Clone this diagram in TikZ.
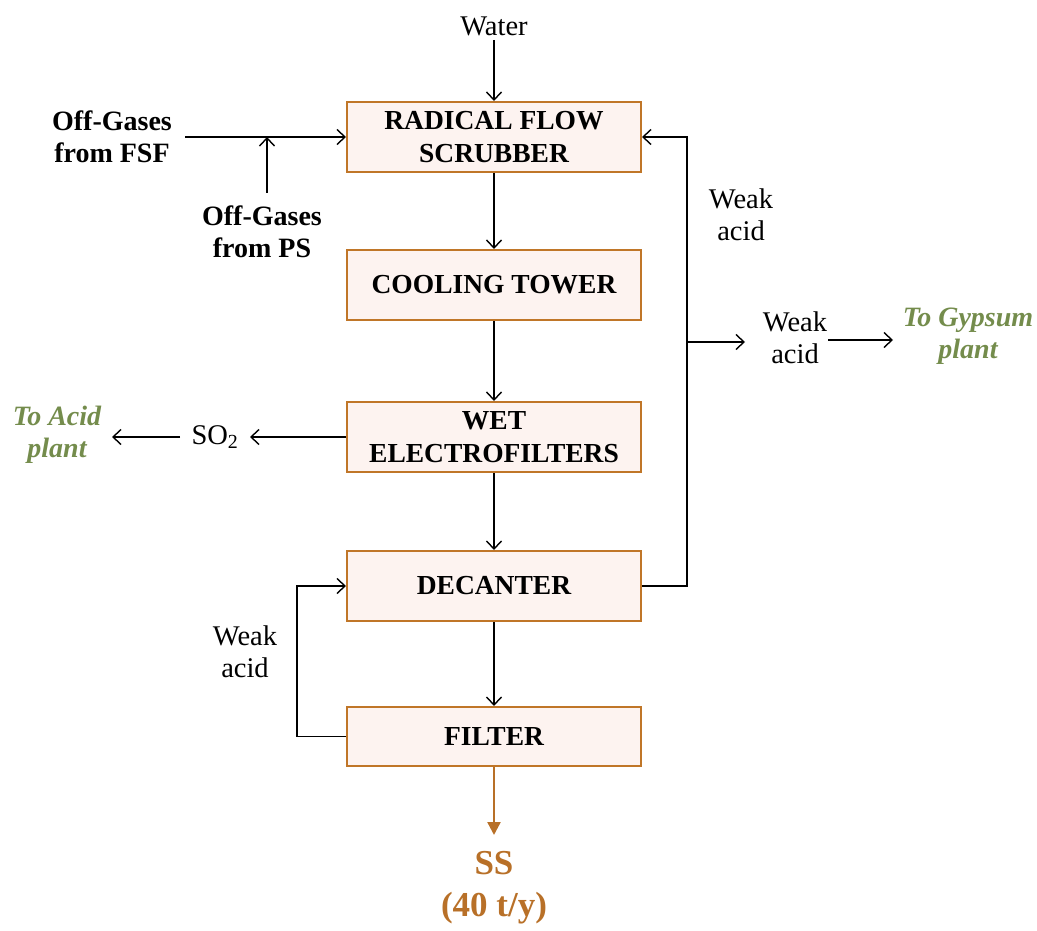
\documentclass[tikz,border=0pt]{standalone}
\usepackage{fontspec}
\setmainfont{Liberation Serif}
\usetikzlibrary{arrows.meta}
\definecolor{boxborder}{RGB}{192,118,40}
\definecolor{boxfill}{RGB}{253,243,240}
\definecolor{ssbrown}{RGB}{184,112,40}
\definecolor{plantgreen}{RGB}{116,140,76}
\tikzset{
  proc/.style={draw=boxborder, fill=boxfill, line width=2pt, minimum width=294pt, inner sep=0pt,
    font=\fontsize{27.5}{33}\selectfont\bfseries, align=center},
  flow/.style={line width=1.4pt, -{Straight Barb[length=8pt,width=15pt,line width=1.4pt]}},
  lbl/.style={font=\fontsize{28.5}{32}\selectfont, align=center, inner sep=1pt},
  blbl/.style={font=\fontsize{28}{32}\selectfont\bfseries, align=center, inner sep=1pt},
  glbl/.style={font=\fontsize{28}{32}\selectfont\bfseries\itshape, text=plantgreen, align=center, inner sep=1pt},
}
\begin{document}
\begin{tikzpicture}[x=1pt,y=-1pt]
\useasboundingbox (0,0) rectangle (1037,931);
% boxes
\node[proc, minimum height=70pt] (scr) at (494,137) {RADICAL FLOW\\SCRUBBER};
\node[proc, minimum height=70pt] (cool) at (494,285) {COOLING TOWER};
\node[proc, minimum height=70pt] (wet) at (494,437) {WET\\ELECTROFILTERS};
\node[proc, minimum height=70pt] (dec) at (494,586) {DECANTER};
\node[proc, minimum height=59pt] (fil) at (494,736.5) {FILTER};
% labels
\node[lbl] (water) at (494,26) {Water};
\node[blbl] (fsf) at (112,137) {Off-Gases\\from FSF};
\node[blbl] (ps) at (262,232) {Off-Gases\\from PS};
\node[lbl] (so2) at (215,437) {SO\textsubscript{2}};
\node[glbl] (acid) at (57,435) {To Acid\\plant};
\node[lbl] (wa1) at (741,215) {Weak\\acid};
\node[lbl] (wa2) at (795,338) {Weak\\acid};
\node[glbl] (gyp) at (968,336) {To Gypsum\\plant};
\node[lbl] (wa3) at (245,652) {Weak\\acid};
\node[font=\fontsize{35}{42}\selectfont\bfseries, text=ssbrown, align=center] (ss) at (494,888) {SS\\(40 t/y)};
% coordinates
\coordinate (waterend) at (494,40);
\coordinate (fsfend) at (185,137);
\coordinate (psj) at (267,137);
\coordinate (psstart) at (267,193);
\coordinate (rdec) at (687,586);
\coordinate (rtop) at (687,137);
\coordinate (rbr) at (687,342);
\coordinate (rbrend) at (745,342);
\coordinate (so2r) at (250,437);
\coordinate (so2l) at (180,437);
\coordinate (acidr) at (112,437);
\coordinate (wa2r) at (828,340);
\coordinate (gypl) at (893,340);
\coordinate (lfil) at (297,736.5);
\coordinate (ldec) at (297,586);
\coordinate (ssend) at (494,835);
% connectors
\draw[flow] (waterend) -- (scr.north);
\draw[flow] (fsfend) -- (scr.west);
\draw[flow] (psstart) -- (psj);
\draw[flow] (scr.south) -- (cool.north);
\draw[flow] (cool.south) -- (wet.north);
\draw[flow] (wet.south) -- (dec.north);
\draw[flow] (dec.south) -- (fil.north);
\draw[flow] (wet.west) -- (so2r);
\draw[flow] (so2l) -- (acidr);
\draw[flow] (dec.east) -- (rdec) -- (rtop) -- (scr.east);
\draw[flow] (rbr) -- (rbrend);
\draw[flow] (wa2r) -- (gypl);
\draw[flow] (fil.west) -- (lfil) -- (ldec) -- (dec.west);
\draw[line width=2.4pt, draw=ssbrown, -{Triangle[length=13pt,width=13pt]}] (fil.south) -- (ssend);
\end{tikzpicture}
\end{document}
